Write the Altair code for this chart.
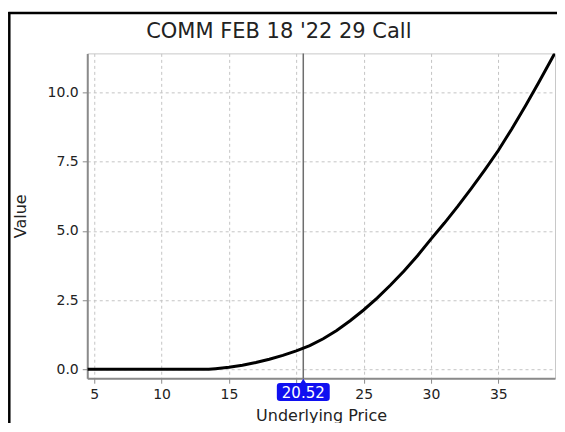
import altair as alt
import pandas as pd

title_text = "COMM FEB 18 '22 29 Call"
x_title = "Underlying Price"
y_title = "Value"
underlying_now = 20.52
now_label = "20.52"

prices = [4.5, 5, 6, 7, 8, 9, 10, 11, 12, 13, 13.5, 14, 15, 16, 17, 18, 19, 20, 21, 22,
          23, 24, 25, 26, 27, 28, 29, 30, 31, 32, 33, 34, 35, 36, 37, 38, 39, 39.2]
values = [0, 0, 0, 0, 0, 0, 0, 0, 0, 0, 0, 0.02, 0.07, 0.14, 0.24, 0.36, 0.50, 0.66, 0.85, 1.10,
          1.40, 1.75, 2.14, 2.57, 3.04, 3.55, 4.10, 4.70, 5.28, 5.89, 6.53, 7.20, 7.90, 8.68, 9.50,
          10.36, 11.24, 11.42]
x_ticks = [5, 10, 15, 20, 25, 30, 35]
y_ticks = [0, 2.5, 5, 7.5, 10]
x_domain = [4.48, 39.21]
y_domain = [-0.325, 11.41]

FONT = "DejaVu Sans"
curve = pd.DataFrame({"price": prices, "value": values})
now_df = pd.DataFrame({"price": [underlying_now], "label": [now_label]})
title_df = pd.DataFrame({"t": [title_text]})

x_scale = alt.Scale(domain=x_domain, nice=False, zero=False)
y_scale = alt.Scale(domain=y_domain, nice=False, zero=False)

axis_common = dict(
    grid=True, gridDash=[3, 3], gridColor="#c4c4c4", gridWidth=1,
    domainColor="#8a8a8a", domainWidth=2, tickColor="#8a8a8a", tickSize=5, tickWidth=1,
    labelFont=FONT, labelFontSize=14, labelColor="#222222",
    titleFont=FONT, titleFontSize=16, titleFontWeight="normal", titleColor="#222222",
)

line = alt.Chart(curve).mark_line(color="black", strokeWidth=3, clip=True).encode(
    x=alt.X("price:Q", scale=x_scale,
            axis=alt.Axis(values=x_ticks, title=x_title, labelPadding=4, titlePadding=6,
                          labelExpr="datum.value == 20 ? '' : datum.label", **axis_common)),
    y=alt.Y("value:Q", scale=y_scale,
            axis=alt.Axis(values=y_ticks, format=".1f", title=y_title, labelPadding=4,
                          titlePadding=19, **axis_common)),
)

now_rule = alt.Chart(now_df).mark_rule(color="#6e6e6e", strokeWidth=1.5).encode(
    x=alt.X("price:Q", scale=x_scale)
)

box_shape = ("M-0.88,-0.34 L-0.1,-0.34 L0,-0.5 L0.1,-0.34 L0.88,-0.34 Q1,-0.34 1,-0.22 "
             "L1,0.22 Q1,0.34 0.88,0.34 L-0.88,0.34 Q-1,0.34 -1,0.22 L-1,-0.22 Q-1,-0.34 -0.88,-0.34 Z")
now_box = alt.Chart(now_df).mark_point(
    shape=box_shape, filled=True, color="#1010f0", opacity=1, size=2800, clip=False
).encode(
    x=alt.X("price:Q", scale=x_scale),
    y=alt.value(338.7),
)
now_text = alt.Chart(now_df).mark_text(
    color="white", font=FONT, fontSize=15, baseline="middle", align="center", clip=False
).encode(
    x=alt.X("price:Q", scale=x_scale),
    y=alt.value(339.5),
    text="label:N",
)

title_mark = alt.Chart(title_df).mark_text(
    color="#222222", font=FONT, fontSize=21, baseline="middle", align="center", clip=False
).encode(
    x=alt.value(191.7), y=alt.value(-21.3), text="t:N"
)

frame_top = alt.Chart(now_df).mark_rule(color="black", strokeWidth=2.5).encode(
    x=alt.value(-79), x2=alt.value(520), y=alt.value(-40.5)
)
frame_left = alt.Chart(now_df).mark_rule(color="black", strokeWidth=2.5).encode(
    x=alt.value(-78), y=alt.value(-41.5), y2=alt.value(380)
)

chart = alt.layer(now_rule, line, now_box, now_text, title_mark, frame_top, frame_left).properties(
    width=468, height=325,
    autosize=alt.AutoSizeParams(type="none"),
    padding={"left": 79.3, "top": 45.3, "right": 2, "bottom": 45},
    background="white",
).configure_view(stroke="#c8c8c8", strokeWidth=1)

chart.save("out.html", embed_options={"renderer": "svg", "actions": False})
